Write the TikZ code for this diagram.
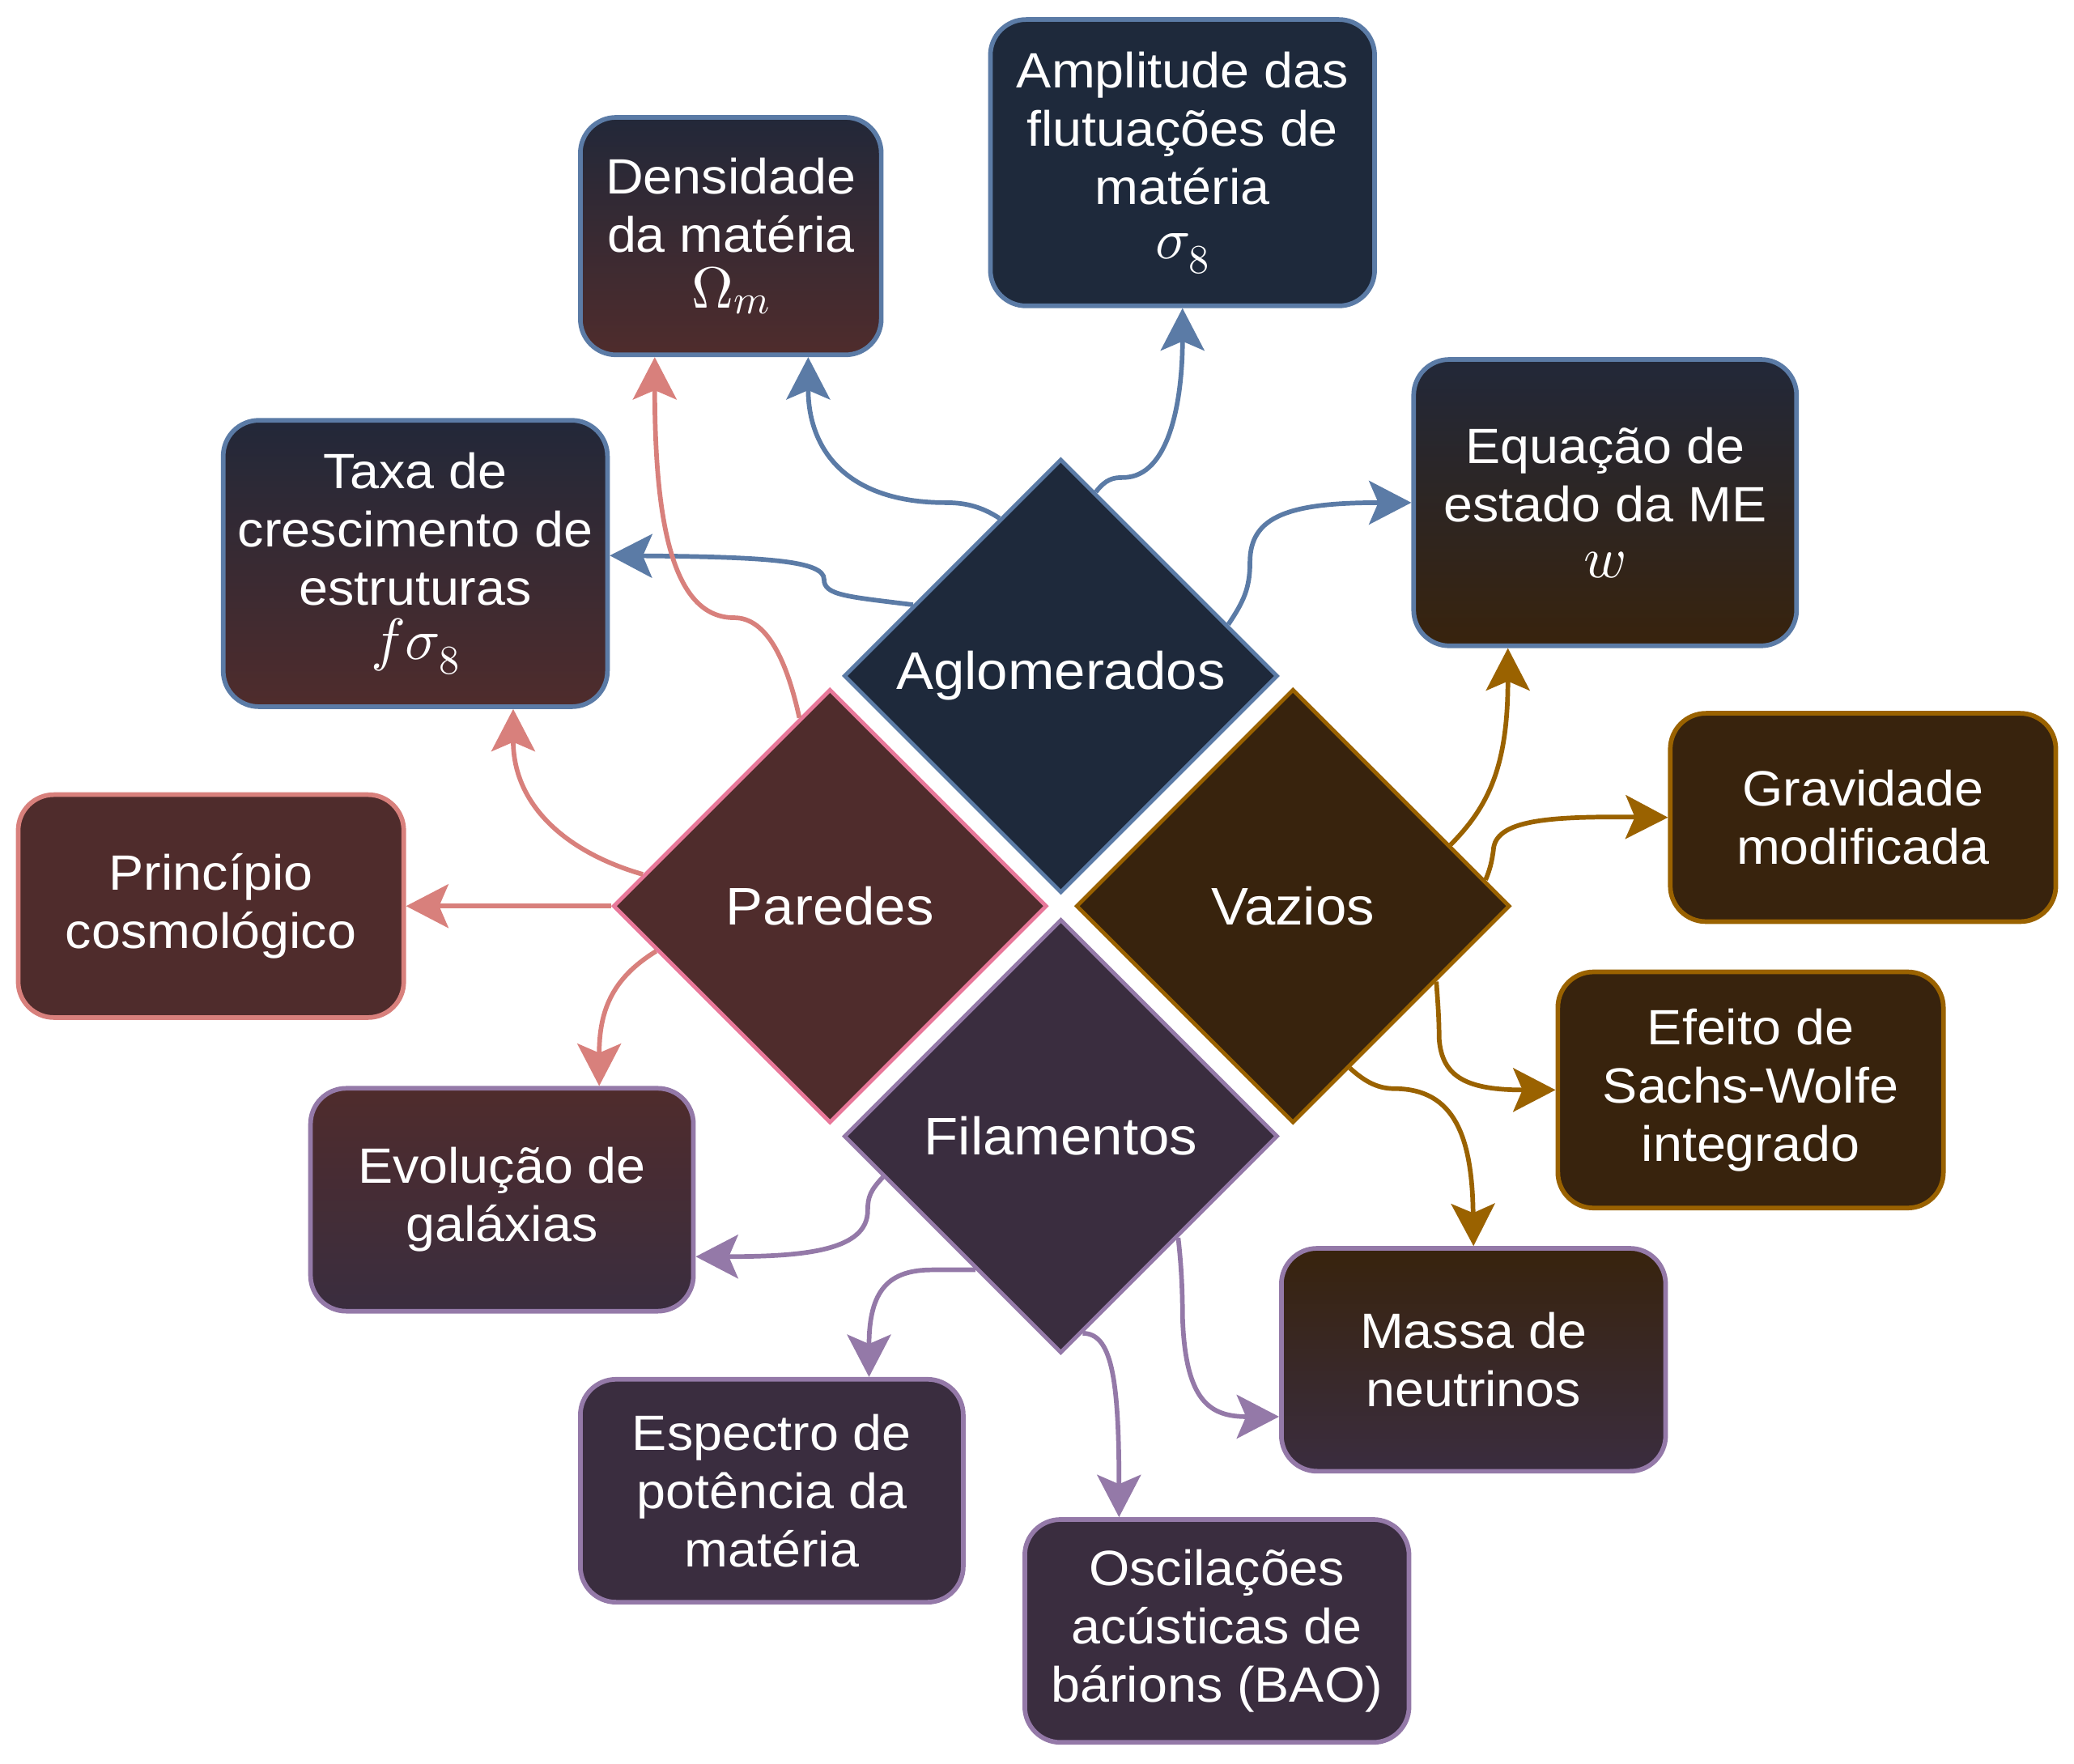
\documentclass[tikz,border=0pt]{standalone}
\usepackage[no-math]{fontspec}
\setmainfont{Liberation Sans}[FakeStretch=1.055]
\DeclareFontShape{OML}{cmm}{m}{it}{<->cmmi10}{\skewchar\font'177}
\DeclareFontShape{OT1}{cmr}{m}{n}{<->cmr10}{}
\usetikzlibrary{shapes.geometric,arrows.meta,calc}
\definecolor{cnavy}{HTML}{1E293B}
\definecolor{cnavyg}{HTML}{222839}
\definecolor{cblue}{HTML}{5B7BA6}
\definecolor{cmaroon}{HTML}{4F2C2C}
\definecolor{cpink}{HTML}{E8789A}
\definecolor{csalmon}{HTML}{D8807C}
\definecolor{cbrown}{HTML}{38230D}
\definecolor{cgold}{HTML}{9A6200}
\definecolor{cpurple}{HTML}{3A2D3F}
\definecolor{cpurpleb}{HTML}{9479A8}
\newcommand\mathline[1]{{\fontsize{44}{46}\selectfont$#1$}}
\tikzset{
  box/.style={rectangle, rounded corners=27pt, line width=3.5pt, text=white,
    align=center, inner sep=0pt, font=\fontsize{37.5}{44}\selectfont},
  dia/.style={diamond, aspect=1, minimum width=328pt, minimum height=328pt,
    inner sep=0pt, line width=3pt, text=white, font=\fontsize{40}{46}\selectfont},
  conn/.style={line width=3.5pt, -{Stealth[length=32pt,width=33pt,inset=7pt]}},
}
\begin{document}
\begin{tikzpicture}[x=1pt,y=-1pt]
\useasboundingbox (0,0) rectangle (1568,1333);

% diamonds
\node[dia, fill=cnavy, draw=cblue] (agl) at (802,511) {Aglomerados};
\node[dia, fill=cmaroon, draw=cpink] (par) at (627.5,685) {Paredes};
\node[dia, fill=cbrown, draw=cgold] (vaz) at (977.5,685) {Vazios};
\node[dia, fill=cpurple, draw=cpurpleb] (fil) at (802,859) {Filamentos};

% boxes
\node[box, draw=cblue, top color=cnavyg, bottom color=cmaroon,
  minimum width=227.5pt, minimum height=179.5pt] (dens) at (552.5,178.5)
  {Densidade\\da matéria\\[-2pt]\mathline{\Omega_m}};
\node[box, draw=cblue, fill=cnavy,
  minimum width=290.5pt, minimum height=216.5pt] (amp) at (894,123)
  {Amplitude das\\flutuações de\\matéria\\[-3pt]\mathline{\sigma_8}};
\node[box, draw=cblue, top color=cnavyg, bottom color=cmaroon,
  minimum width=290.5pt, minimum height=216.5pt] (taxa) at (314,426)
  {Taxa de\\crescimento de\\estruturas\\[-3pt]\mathline{f\sigma_8}};
\node[box, draw=cblue, top color=cnavyg, bottom color=cbrown,
  minimum width=289.5pt, minimum height=216.5pt] (equ) at (1213.5,380)
  {Equação de\\estado da ME\\[-2pt]\mathline{w}};
\node[box, draw=cgold, fill=cbrown,
  minimum width=291.5pt, minimum height=157.5pt] (grav) at (1408.5,618)
  {Gravidade\\modificada};
\node[box, draw=csalmon, fill=cmaroon,
  minimum width=291.5pt, minimum height=168.5pt] (pri) at (159.5,685)
  {Princípio\\cosmológico};
\node[box, draw=cgold, fill=cbrown,
  minimum width=291.5pt, minimum height=178.5pt] (eff) at (1323.5,824)
  {Efeito de\\Sachs-Wolfe\\integrado};
\node[box, draw=cpurpleb, top color=cmaroon, bottom color=cpurple,
  minimum width=289.5pt, minimum height=168.5pt] (evo) at (379.5,907)
  {Evolução de\\galáxias};
\node[box, draw=cpurpleb, top color=cbrown, bottom color=cpurple,
  minimum width=290.5pt, minimum height=168.5pt] (mas) at (1114,1028)
  {Massa de\\neutrinos};
\node[box, draw=cpurpleb, fill=cpurple,
  minimum width=289.5pt, minimum height=168.5pt] (esp) at (583.5,1127)
  {Espectro de\\potência da\\matéria};
\node[box, draw=cpurpleb, fill=cpurple,
  minimum width=290.5pt, minimum height=168.5pt] (bao) at (920,1233)
  {Oscilações\\acústicas de\\bárions (BAO)};

% Aglomerados connectors
\draw[conn, cblue] ($(agl.north)!0.16!(agl.east)$) .. controls (836,362) and (842,361) .. (849,361)
  .. controls (885,361) and (894,300) .. (amp.south);
\draw[conn, cblue] ($(agl.north)!0.28!(agl.west)$) .. controls (742,383) and (730,380) .. (715,380)
  .. controls (640,380) and (611,340) .. ($(dens.south)+(58.5,0)$);
\draw[conn, cblue] ($(agl.north)!0.675!(agl.west)$) .. controls (640,451) and (623,450) .. (623,438)
  .. controls (623,424) and (580,421) .. ($(taxa.east)+(0,-6)$);
\draw[conn, cblue] ($(agl.north)!0.765!(agl.east)$) .. controls (940,455) and (945,445) .. (945,425)
  .. controls (945,390) and (975,380) .. (equ.west);

% Vazios connectors
\draw[conn, cgold] ($(vaz.north)!0.72!(vaz.east)$) .. controls (1125,610) and (1140,580) .. ($(equ.south)+(-73.5,0)$);
\draw[conn, cgold] ($(vaz.north)!0.88!(vaz.east)$) .. controls (1127,656) and (1128,650) .. (1129,643)
  .. controls (1130,620) and (1170,617) .. (grav.west);
\draw[conn, cgold] ($(vaz.east)!0.345!(vaz.south)$) .. controls (1087,758) and (1088,770) .. (1088,785)
  .. controls (1090,815) and (1110,824) .. (eff.west);
\draw[conn, cgold] ($(vaz.south)!0.26!(vaz.east)$) .. controls (1030,816) and (1040,823) .. (1054,823)
  .. controls (1100,823) and (1113,860) .. (mas.north);

% Paredes connectors
\draw[conn, csalmon] ($(par.north)!0.14!(par.west)$) .. controls (595,500) and (580,467) .. (555,467)
  .. controls (510,467) and (495,400) .. ($(dens.south)+(-57.5,0)$);
\draw[conn, csalmon] ($(par.north)!0.855!(par.west)$) .. controls (430,645) and (388,610) .. ($(taxa.south)+(74,0)$);
\draw[conn, csalmon] (par.west) -- (pri.east);
\draw[conn, csalmon] ($(par.west)!0.206!(par.south)$) .. controls (462,740) and (453,765) .. ($(evo.north)+(73.5,0)$);

% Filamentos connectors
\draw[conn, cpurpleb] ($(fil.west)!0.187!(fil.south)$) .. controls (658,900) and (656,905) .. (656,915)
  .. controls (656,945) and (610,950) .. ($(evo.east)+(0,43)$);
\draw[conn, cpurpleb] ($(fil.west)!0.61!(fil.south)$) .. controls (727,960) and (715,960) .. (705,960)
  .. controls (672,960) and (657,975) .. ($(esp.north)+(73.5,0)$);
\draw[conn, cpurpleb] ($(fil.south)!0.10!(fil.east)$) .. controls (840,1008) and (846,1040) .. ($(bao.north)+(-74,0)$);
\draw[conn, cpurpleb] ($(fil.east)!0.464!(fil.south)$) .. controls (893,955) and (894,975) .. (894,995)
  .. controls (896,1060) and (915,1071) .. ($(mas.west)+(0,43)$);
\end{tikzpicture}
\end{document}
